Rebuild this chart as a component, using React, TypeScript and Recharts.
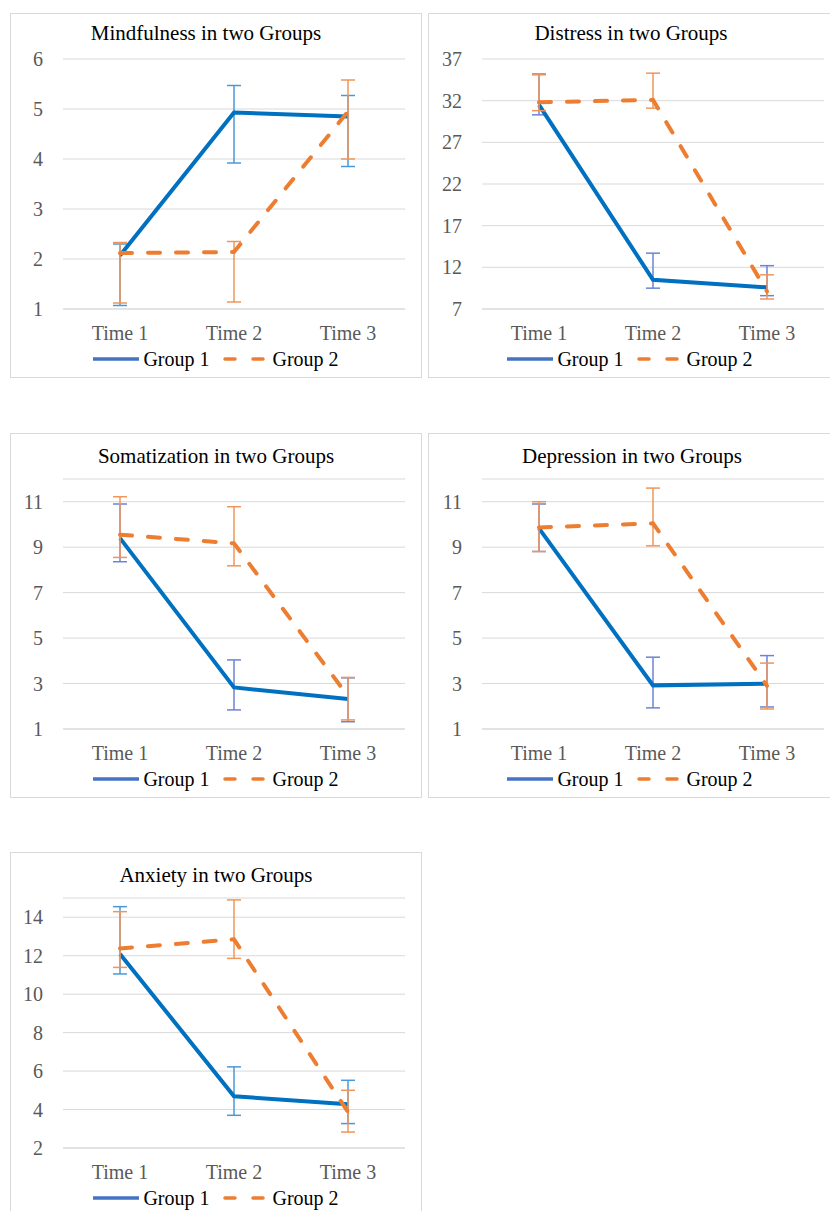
import { LineChart, Line, XAxis, YAxis, CartesianGrid, ErrorBar, Legend } from "recharts";

const times = ["Time 1", "Time 2", "Time 3"];

// Mindfulness
const mindG1 = [2.07, 4.93, 4.85];
const mindG1Low = [1.07, 3.92, 3.85];
const mindG1High = [2.3, 5.47, 5.27];
const mindG2 = [2.12, 2.14, 4.95];
const mindG2Low = [1.12, 1.14, 4.0];
const mindG2High = [2.33, 2.35, 5.58];
const mindTicks = [1, 2, 3, 4, 5, 6];

// Distress
const distG1 = [31.5, 10.5, 9.6];
const distG1Low = [30.3, 9.5, 8.6];
const distG1High = [35.2, 13.7, 12.2];
const distG2 = [31.8, 32.1, 9.1];
const distG2Low = [30.8, 31.1, 8.2];
const distG2High = [35.1, 35.3, 11.1];
const distTicks = [7, 12, 17, 22, 27, 32, 37];

// Somatization
const somG1 = [9.4, 2.83, 2.32];
const somG1Low = [8.36, 1.84, 1.32];
const somG1High = [10.9, 4.04, 3.25];
const somG2 = [9.55, 9.17, 2.45];
const somG2Low = [8.55, 8.18, 1.4];
const somG2High = [11.22, 10.78, 3.27];
const somTicks = [1, 3, 5, 7, 9, 11];

// Depression
const depG1 = [9.83, 2.92, 2.99];
const depG1Low = [8.81, 1.93, 1.97];
const depG1High = [10.9, 4.16, 4.23];
const depG2 = [9.87, 10.05, 2.9];
const depG2Low = [8.81, 9.06, 1.88];
const depG2High = [11.0, 11.6, 3.9];
const depTicks = [1, 3, 5, 7, 9, 11];

// Anxiety
const anxG1 = [12.09, 4.69, 4.27];
const anxG1Low = [11.05, 3.7, 3.27];
const anxG1High = [14.55, 6.22, 5.52];
const anxG2 = [12.38, 12.85, 3.87];
const anxG2Low = [11.39, 11.86, 2.83];
const anxG2High = [14.29, 14.9, 5.0];
const anxTicks = [2, 4, 6, 8, 10, 12, 14];

const BLUE = "#0070C0";
const ORANGE = "#ED7D31";
const FONT = '"Liberation Serif", "Times New Roman", serif';

function buildRows(g1: number[], g1Low: number[], g1High: number[], g2: number[], g2Low: number[], g2High: number[]) {
  return times.map((t, i) => ({
    time: t,
    g1: g1[i],
    e1: [g1[i] - g1Low[i], g1High[i] - g1[i]],
    g2: g2[i],
    e2: [g2[i] - g2Low[i], g2High[i] - g2[i]],
  }));
}

const LegendContent = () => (
  <div style={{ display: "flex", justifyContent: "center", alignItems: "center", height: 24, fontFamily: FONT, fontSize: 20, lineHeight: "24px", color: "#000" }}>
    <svg width={46} height={10} style={{ marginRight: 4 }}>
      <line x1={0} y1={5} x2={46} y2={5} stroke="#4472C4" strokeWidth={3.5} />
    </svg>
    <span style={{ marginRight: 13 }}>Group 1</span>
    <svg width={43} height={10} style={{ marginRight: 7 }}>
      <line x1={2} y1={5} x2={41} y2={5} stroke={ORANGE} strokeWidth={3.5} strokeDasharray="10 18" strokeLinecap="round" />
    </svg>
    <span>Group 2</span>
  </div>
);

interface PanelProps {
  title: string;
  left: number;
  top: number;
  width: number;
  plotLeft: number;
  plotRight: number;
  titleX: number;
  titleBase: number;
  domain: [number, number];
  ticks: number[];
  rows: any[];
  err1: string;
  err2: string;
}

function Panel({ title, left, top, width, plotLeft, plotRight, titleX, titleBase, domain, ticks, rows, err1, err2 }: PanelProps) {
  const height = 365;
  return (
    <div style={{ position: "absolute", left, top, width, height, border: "1px solid #D9D9D9", boxSizing: "border-box", background: "#fff" }}>
      <div style={{ position: "absolute", left: titleX - 200 - 1, top: titleBase - 19 - 1, width: 400, textAlign: "center", fontFamily: FONT, fontSize: 21, lineHeight: "24px", color: "#000", whiteSpace: "nowrap" }}>
        {title}
      </div>
      <div style={{ position: "absolute", left: -1, top: -1 }}>
        <LineChart width={width} height={height} data={rows} margin={{ top: 46, left: plotLeft - 40, right: width - plotRight, bottom: 39 }}>
          <CartesianGrid vertical={false} stroke="#D9D9D9" strokeWidth={1} />
          <XAxis
            dataKey="time"
            height={30}
            padding={{ left: 57, right: 57 }}
            axisLine={{ stroke: "#D9D9D9" }}
            tickLine={false}
            tickSize={0}
            tickMargin={17}
            tick={{ fill: "#595959", fontSize: 20, fontFamily: FONT }}
          />
          <YAxis
            type="number"
            width={40}
            domain={domain}
            ticks={ticks}
            allowDataOverflow
            axisLine={false}
            tickLine={false}
            tickSize={0}
            tickMargin={20}
            tick={{ fill: "#595959", fontSize: 20, fontFamily: FONT }}
          />
          <Legend verticalAlign="middle" align="center" layout="horizontal" content={LegendContent} wrapperStyle={{ top: 334, left: 0, width }} />
          <Line dataKey="g1" name="Group 1" stroke={BLUE} strokeWidth={4} dot={false} activeDot={false} isAnimationActive={false}>
            <ErrorBar dataKey="e1" direction="y" width={7} stroke={err1} strokeWidth={1.5} />
          </Line>
          <Line dataKey="g2" name="Group 2" stroke={ORANGE} strokeWidth={4} strokeDasharray="12 16" strokeLinecap="round" dot={false} activeDot={false} isAnimationActive={false}>
            <ErrorBar dataKey="e2" direction="y" width={7} stroke={err2} strokeWidth={1.5} />
          </Line>
        </LineChart>
      </div>
    </div>
  );
}

export default function App() {
  return (
    <div style={{ position: "absolute", left: 0, top: 0, width: 830, height: 1211, background: "#fff", overflow: "hidden" }}>
      <Panel
        title="Mindfulness in two Groups"
        left={10} top={13} width={412} plotLeft={53} plotRight={395}
        titleX={196} titleBase={27}
        domain={[1, 6]} ticks={mindTicks}
        rows={buildRows(mindG1, mindG1Low, mindG1High, mindG2, mindG2Low, mindG2High)}
        err1="#4A98DA" err2="#F0955A"
      />
      <Panel
        title="Distress in two Groups"
        left={428} top={13} width={404} plotLeft={54} plotRight={396}
        titleX={203} titleBase={27}
        domain={[7, 37]} ticks={distTicks}
        rows={buildRows(distG1, distG1Low, distG1High, distG2, distG2Low, distG2High)}
        err1="#6C84D4" err2="#F0955A"
      />
      <Panel
        title="Somatization in two Groups"
        left={10} top={433} width={412} plotLeft={53} plotRight={395}
        titleX={206} titleBase={30}
        domain={[1, 12]} ticks={somTicks}
        rows={buildRows(somG1, somG1Low, somG1High, somG2, somG2Low, somG2High)}
        err1="#6C84D4" err2="#F0955A"
      />
      <Panel
        title="Depression in two Groups"
        left={428} top={433} width={404} plotLeft={54} plotRight={396}
        titleX={204} titleBase={30}
        domain={[1, 12]} ticks={depTicks}
        rows={buildRows(depG1, depG1Low, depG1High, depG2, depG2Low, depG2High)}
        err1="#6C84D4" err2="#F0955A"
      />
      <Panel
        title="Anxiety in two Groups"
        left={10} top={852} width={412} plotLeft={53} plotRight={395}
        titleX={206} titleBase={30}
        domain={[2, 15]} ticks={anxTicks}
        rows={buildRows(anxG1, anxG1Low, anxG1High, anxG2, anxG2Low, anxG2High)}
        err1="#4A98DA" err2="#F0955A"
      />
    </div>
  );
}
